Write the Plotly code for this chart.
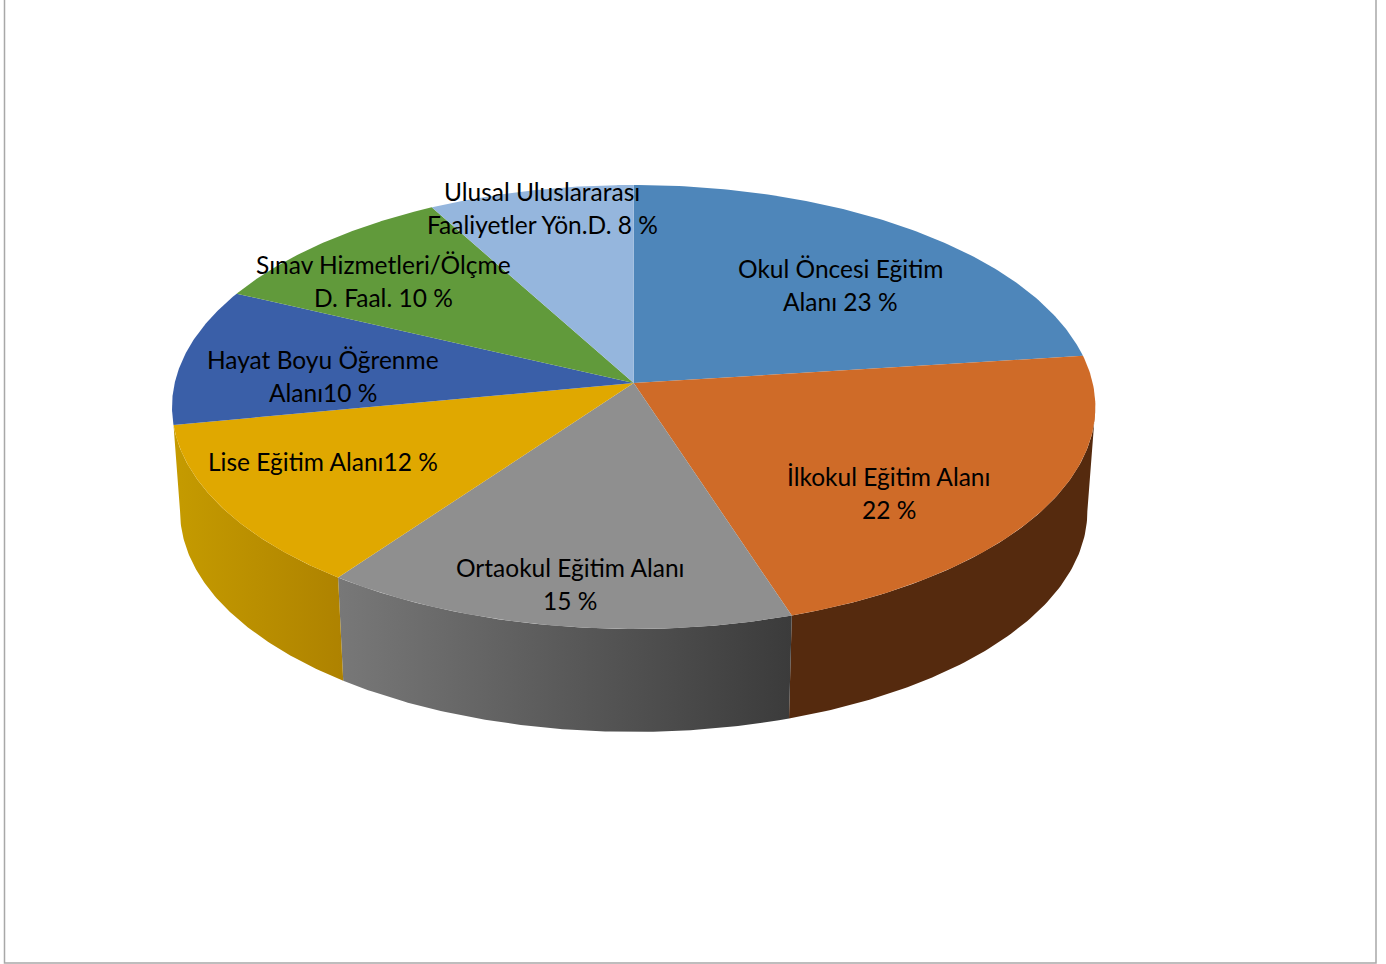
import numpy as np
import plotly.graph_objects as go

# Data
categories = ["Okul Öncesi Eğitim Alanı", "İlkokul Eğitim Alanı", "Ortaokul Eğitim Alanı",
              "Lise Eğitim Alanı", "Hayat Boyu Öğrenme Alanı", "Sınav Hizmetleri/Ölçme D. Faal.",
              "Ulusal Uluslararası Faaliyetler Yön.D."]
values = [23, 22, 15, 12, 10, 10, 8]
label_lines = [
    ["Okul Öncesi Eğitim", "Alanı 23 %"],
    ["İlkokul Eğitim Alanı", "22 %"],
    ["Ortaokul Eğitim Alanı", "15 %"],
    ["Lise Eğitim Alanı12 %"],
    ["Hayat Boyu Öğrenme", "Alanı10 %"],
    ["Sınav Hizmetleri/Ölçme", "D. Faal. 10 %"],
    ["Ulusal Uluslararası", "Faaliyetler Yön.D. 8 %"],
]

# Styles / layout
top_colors = ["#4e86ba", "#cf6b28", "#8f8f8f", "#e0a800", "#3a5fa8", "#619a3b", "#95b6dd"]
walls = {1: ["#552a0e", "#552a0e"], 2: ["#787878", "#3b3b3b"], 3: ["#c59b00", "#ae8200"]}
label_pos = [(840.5, 268), (888.5, 476), (570, 567), (323, 461), (322.5, 359), (383.5, 264), (542, 191)]
LINE_H = 33
W, H = 1386, 964
CX, TOP_Y, TOP_A, TOP_B = 633.7, 383, 459, 219.4
BOT_Y, BOT_A, BOT_B = 487.5, 451, 218
P = 0.108


def rim(theta, cy, a, b):
    u, v = np.sin(theta), np.cos(theta)
    d = 1 + P * v
    return CX + a * u / d, cy - b * v / d


edges = 2 * np.pi * np.cumsum([0] + values) / sum(values)
# rim angles at which the cylinder outline leaves the top face
sil_r, sil_l = np.arccos(-P), 2 * np.pi - np.arccos(-P)
fig = go.Figure()

# side walls (behind the top faces)
for i, cs in walls.items():
    start_u = start_l = edges[i]
    end_u = end_l = edges[i + 1]
    if i == 1:
        start_u = start_l = sil_r
    if i == 3:
        end_l = sil_l
    xu, yu = rim(np.linspace(start_u, end_u, 90), TOP_Y, TOP_A, TOP_B)
    xl, yl = rim(np.linspace(end_l, start_l, 90), BOT_Y, BOT_A, BOT_B)
    fig.add_trace(go.Scatter(
        x=np.r_[xu, xl, xu[0]], y=np.r_[yu, yl, yu[0]], mode="lines", line=dict(width=0),
        fill="toself", hoverinfo="skip", showlegend=False,
        fillgradient=dict(type="horizontal", colorscale=[[0, cs[0]], [1, cs[1]]]),
    ))

# top faces
for i, c in enumerate(top_colors):
    th = np.linspace(edges[i], edges[i + 1], 120)
    xu, yu = rim(th, TOP_Y, TOP_A, TOP_B)
    fig.add_trace(go.Scatter(
        x=np.r_[CX, xu, CX], y=np.r_[TOP_Y, yu, TOP_Y], mode="lines", line=dict(width=0),
        fill="toself", fillcolor=c, name=categories[i], text=f"{values[i]} %",
        hoverinfo="name+text", showlegend=False,
    ))

# labels
for lines, (x, y) in zip(label_lines, label_pos):
    for k, t in enumerate(lines):
        fig.add_annotation(x=x, y=y + k * LINE_H, text=t, showarrow=False, xanchor="center",
                           yanchor="middle", font=dict(family="Lato", size=24.5, color="#000000"))

fig.add_shape(type="rect", x0=4.5, x1=1376, y0=-10, y1=963, line=dict(color="#a8a8a8", width=1.5))

fig.update_layout(
    width=W, height=H, margin=dict(l=0, r=0, t=0, b=0),
    paper_bgcolor="white", plot_bgcolor="white", showlegend=False,
    xaxis=dict(range=[0, W], visible=False, fixedrange=True),
    yaxis=dict(range=[H, 0], visible=False, fixedrange=True),
)
fig.write_html("out.html", config={"displayModeBar": False},
               post_script="document.body.style.margin='0';document.documentElement.style.overflow='hidden';")
